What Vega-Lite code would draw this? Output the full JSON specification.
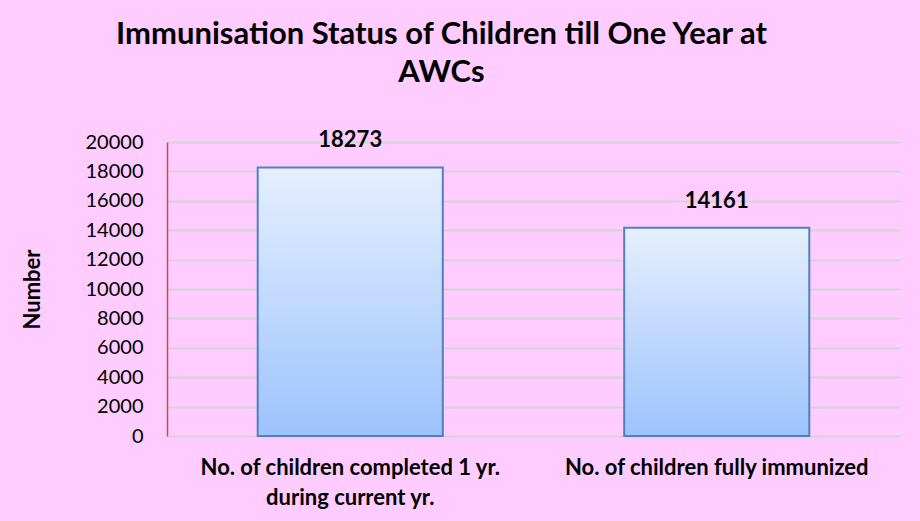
{
  "$schema": "https://vega.github.io/schema/vega-lite/v6.json",
  "width": 733,
  "height": 294,
  "autosize": "none",
  "padding": {"left": 167, "top": 142, "right": 20, "bottom": 85},
  "background": "#FFCCFF",
  "config": {"view": {"stroke": null}, "font": "Lato"},
  "title": {
    "text": ["Immunisation Status of Children till One Year at", "AWCs"],
    "font": "Lato",
    "fontSize": 31,
    "fontWeight": "bold",
    "color": "#000000",
    "anchor": "middle",
    "frame": "group",
    "dx": -92,
    "lineHeight": 38,
    "offset": 40
  },
  "data": {
    "values": [
      {"category": "No. of children completed 1 yr. during current yr.", "value": 18273},
      {"category": "No. of children fully immunized", "value": 14161}
    ]
  },
  "encoding": {
    "x": {
      "field": "category",
      "type": "nominal",
      "sort": null,
      "scale": {"paddingInner": 0.495, "paddingOuter": 0.2475},
      "axis": {
        "title": null,
        "labelAngle": 0,
        "domain": false,
        "ticks": false,
        "labelFont": "Lato",
        "labelFontSize": 22,
        "labelFontWeight": "bold",
        "labelColor": "#000000",
        "labelPadding": 21,
        "labelLineHeight": 30,
        "labelLimit": 400,
        "labelExpr": "datum.value == 'No. of children completed 1 yr. during current yr.' ? ['No. of children completed 1 yr.', 'during current yr.'] : datum.value"
      }
    },
    "y": {
      "field": "value",
      "type": "quantitative",
      "scale": {"domain": [0, 20000], "nice": false},
      "axis": {
        "title": "Number",
        "titleFont": "Lato",
        "titleFontSize": 22,
        "titleFontWeight": "bold",
        "titleColor": "#000000",
        "titleAngle": -90,
        "titleAlign": "center",
        "titleBaseline": "middle",
        "titleX": -135,
        "titleY": 147,
        "values": [0, 2000, 4000, 6000, 8000, 10000, 12000, 14000, 16000, 18000, 20000],
        "format": "d",
        "labelFont": "Lato",
        "labelFontSize": 20,
        "labelColor": "#000000",
        "labelPadding": 24,
        "ticks": false,
        "domain": true,
        "domainColor": "#C0504D",
        "domainWidth": 1.5,
        "grid": true,
        "gridColor": "#D4D4D4",
        "gridWidth": 2
      }
    }
  },
  "layer": [
    {
      "mark": {
        "type": "bar",
        "stroke": "#4F81BD",
        "strokeWidth": 2,
        "color": {
          "gradient": "linear",
          "x1": 0, "y1": 0, "x2": 0, "y2": 1,
          "stops": [
            {"offset": 0, "color": "#E5EFFF"},
            {"offset": 1, "color": "#9DC3FC"}
          ]
        }
      }
    },
    {
      "mark": {
        "type": "text",
        "font": "Lato",
        "fontSize": 22,
        "fontWeight": "bold",
        "color": "#000000",
        "baseline": "middle",
        "dy": -27
      },
      "encoding": {"text": {"field": "value", "type": "quantitative", "format": "d"}}
    }
  ]
}
